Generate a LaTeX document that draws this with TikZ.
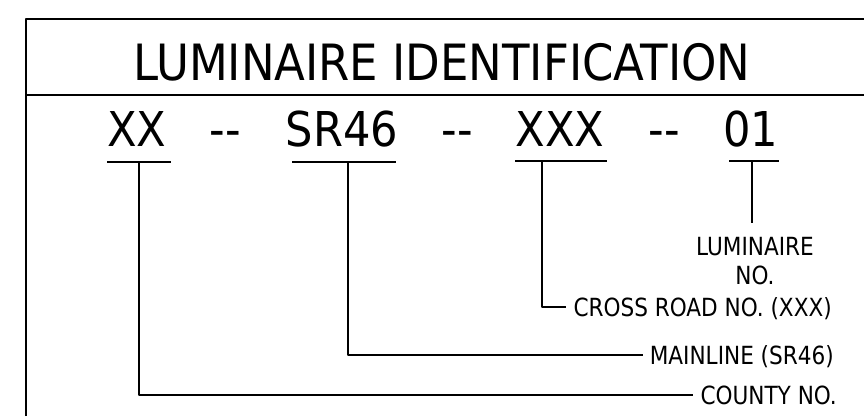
\documentclass[tikz,border=0pt]{standalone}
\usepackage{fontspec}
\setmainfont{DejaVu Sans Condensed}
\newfontfamily\tagfont[FakeStretch=0.96]{DejaVu Sans Condensed}
\usetikzlibrary{calc}
\usetikzlibrary{positioning}

\begin{document}
\begin{tikzpicture}[x=1pt, y=-1pt, line join=round,
    frame/.style={line width=1.4pt},
    lead/.style={line width=1.3pt},
    bigtext/.style={inner sep=0, anchor=base, font=\fontsize{48}{56}\selectfont},
    tagtext/.style={inner sep=0, anchor=east, text height=18pt, text depth=0pt, font=\tagfont\fontsize{25}{29}\selectfont}]
  \useasboundingbox (0,0) rectangle (864,416);
  % frame and header
  \draw[frame] (26,416) -- (26,19) -- (864,19);
  \draw[frame] (26,95) -- (864,95);
  \node[bigtext, font=\fontsize{50}{58}\selectfont] (title) at (442,80) {LUMINAIRE IDENTIFICATION};
  % code parts
  \node[bigtext] (county code) at (137,146) {XX};
  \node[bigtext] (dash1) at (225,146) {-{}-};
  \node[bigtext] (route code) at (342,146) {SR46};
  \node[bigtext] (dash2) at (457,146) {-{}-};
  \node[bigtext] (cross code) at (560,146) {XXX};
  \node[bigtext] (dash3) at (664,146) {-{}-};
  \node[bigtext] (lum code) at (751,146) {01};
  \draw[lead] (107,162) -- (171,162);
  \draw[lead] (292,162) -- (396,162);
  \draw[lead] (515,161) -- (607,161);
  \draw[lead] (729,161) -- (779,161);
  \coordinate (county tap) at (139,162);
  \coordinate (route tap) at (348,162);
  \coordinate (cross tap) at (542,161);
  \coordinate (lum tap) at (752,161);
  % labels
  \node[tagtext] (county) at (837,395) {COUNTY NO.};
  \node[tagtext] (mainline) at (834,355) {MAINLINE (SR46)};
  \node[tagtext] (cross) at (832,307) {CROSS ROAD NO. (XXX)};
  \node[inner sep=0, anchor=north, align=center, font=\tagfont\fontsize{25}{29}\selectfont] (lumno) at (755,237) {LUMINAIRE\\NO.};
  % leaders
  \draw[lead] (county tap) -- (county tap |- county.west) -- ([xshift=-7pt]county.west);
  \draw[lead] (route tap) -- (route tap |- mainline.west) -- ([xshift=-7pt]mainline.west);
  \draw[lead] (cross tap) -- (cross tap |- cross.west) -- ([xshift=-7pt]cross.west);
  \draw[lead] (lum tap) -- ($(lum tap |- lumno.north)+(0,-14)$);
\end{tikzpicture}
\end{document}
